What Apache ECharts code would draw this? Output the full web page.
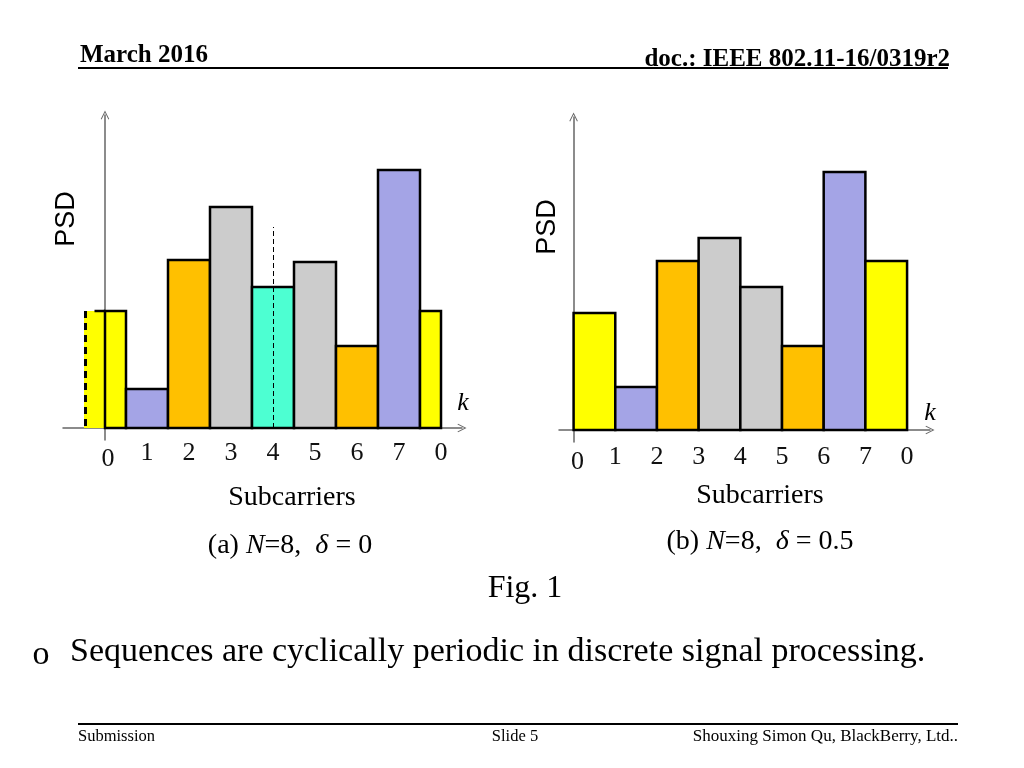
<!DOCTYPE html>
<html><head><meta charset="utf-8">
<script src="https://cdn.jsdelivr.net/npm/echarts@6/dist/echarts.min.js"></script>
<style>html,body{margin:0;padding:0;background:#fff}#c{width:1024px;height:768px}</style>
</head><body><div id="c"></div>
<script>
// ---- data ----
const tickLabels = ['0', '1', '2', '3', '4', '5', '6', '7', '0'];
const tickValues = [0, 1, 2, 3, 4, 5, 6, 7, 8];
const N = 8;
// (a) N=8, delta=0 : bars centred on subcarriers (last bar is the cyclic repeat of 0)
const psdA = [117, 39, 168, 221, 141, 166, 82, 258, 117];
const colorsA = ['#FFFF00', '#A4A4E6', '#FFC000', '#CCCCCC', '#4DFFD2', '#CCCCCC', '#FFC000', '#A4A4E6', '#FFFF00'];
const deltaA = 0;
const markerA = [4, 201]; // dashed marker: subcarrier, height
// (b) N=8, delta=0.5 : bars between subcarriers
const psdB = [117, 43, 169, 192, 143, 84, 258, 169];
const colorsB = ['#FFFF00', '#A4A4E6', '#FFC000', '#CCCCCC', '#CCCCCC', '#FFC000', '#A4A4E6', '#FFFF00'];
const deltaB = 0.5;

const SERIF = "'Liberation Serif','Times New Roman',serif";
const SANS = "'Liberation Sans',Arial,sans-serif";
const AXIS = '#666666';
const chevron = 'path://M0,10 L5,0 L10,10 L9,10.6 L5,2.4 L1,10.6 Z';

function makeRender(delta, colors) {
  return function (params, api) {
    const k = api.value(0), v = api.value(1);
    const c = k + delta;
    const x0 = Math.max(c - 0.5, -0.5), x1 = Math.min(c + 0.5, N);
    const xs = Math.max(x0, 0);
    const tl = api.coord([xs, v]), br = api.coord([x1, 0]);
    const fill = colors[params.dataIndex];
    const children = [];
    if (x0 < 0) {
      const q = api.coord([x0, v]);
      children.push({ type: 'rect', shape: { x: q[0], y: q[1], width: tl[0] - q[0], height: br[1] - q[1] }, style: { fill: fill } });
      children.push({ type: 'line', shape: { x1: q[0] + 1.5, y1: q[1], x2: q[0] + 1.5, y2: br[1] }, style: { stroke: '#000', lineWidth: 3, lineDash: [7, 5] } });
      children.push({ type: 'line', shape: { x1: (q[0] + tl[0]) / 2, y1: q[1], x2: tl[0], y2: q[1] }, style: { stroke: '#000', lineWidth: 2.5 } });
    }
    children.push({ type: 'rect', shape: { x: tl[0], y: tl[1], width: br[0] - tl[0], height: br[1] - tl[1] }, style: { fill: fill, stroke: '#000', lineWidth: 2.5 } });
    return { type: 'group', children: children };
  };
}

function xAxisCfg(gridIndex, min, max, margin, zeroPad) {
  return {
    type: 'value', gridIndex: gridIndex, min: min, max: max,
    axisLine: { show: true, onZero: true, lineStyle: { color: AXIS, width: 1.5 }, symbol: ['none', chevron], symbolSize: [11, 9] },
    axisTick: { show: false },
    splitLine: { show: false },
    axisLabel: {
      show: true, customValues: tickValues, margin: margin, showMinLabel: true, showMaxLabel: true,
      fontFamily: SERIF, fontSize: 26, color: '#111',
      formatter: function (v) { return v === 0 ? '{z|' + tickLabels[0] + '}' : tickLabels[Math.round(v)]; },
      rich: { z: { fontFamily: SERIF, fontSize: 26, color: '#111', padding: zeroPad } }
    }
  };
}
function yAxisCfg(gridIndex) {
  return {
    type: 'value', gridIndex: gridIndex, min: -12, max: 313,
    axisLine: { show: true, onZero: true, lineStyle: { color: AXIS, width: 1.5 }, symbol: ['none', chevron], symbolSize: [11, 9] },
    axisTick: { show: false }, axisLabel: { show: false }, splitLine: { show: false }
  };
}

function txt(x, y, text, size, opts) {
  return { type: 'text', x: x, y: y, style: Object.assign({ text: text, fontFamily: SERIF, fontSize: size, fill: '#000', align: 'center', verticalAlign: 'middle' }, opts || {}) };
}
const italicRich = { i: { fontFamily: SERIF, fontSize: 28, fontStyle: 'italic', fill: '#000' } };

const chart = echarts.init(document.getElementById('c'));
chart.setOption({
  animation: false,
  backgroundColor: '#fff',
  grid: [
    { left: 63, top: 115, width: 399, height: 325 },
    { left: 559, top: 117, width: 371, height: 325 }
  ],
  xAxis: [xAxisCfg(0, -1, 8.5, 0, [6, 0, 0, 6]), xAxisCfg(1, -0.35, 8.55, 2, [5, 0, 0, 8])],
  yAxis: [yAxisCfg(0), yAxisCfg(1)],
  series: [
    {
      type: 'custom', xAxisIndex: 0, yAxisIndex: 0, clip: false,
      renderItem: makeRender(deltaA, colorsA),
      data: psdA.map(function (v, i) { return [i, v]; }),
      markLine: {
        symbol: 'none', silent: true, label: { show: false },
        lineStyle: { color: '#000', width: 1, type: [5, 3] },
        data: [[{ coord: [markerA[0], 0] }, { coord: markerA }]]
      },
      z: 3
    },
    {
      type: 'custom', xAxisIndex: 1, yAxisIndex: 1, clip: false,
      renderItem: makeRender(deltaB, colorsB),
      data: psdB.map(function (v, i) { return [i, v]; }),
      z: 3
    }
  ],
  graphic: [
    txt(80, 56, 'March 2016', 25, { align: 'left', fontWeight: 'bold' }),
    txt(950, 60, 'doc.: IEEE 802.11-16/0319r2', 25, { align: 'right', fontWeight: 'bold' }),
    { type: 'line', shape: { x1: 78, y1: 68, x2: 948, y2: 68 }, style: { stroke: '#000', lineWidth: 2 } },
    { type: 'text', x: 67, y: 219, rotation: Math.PI / 2, style: { text: 'PSD', fontFamily: SANS, fontSize: 27, fill: '#000', align: 'center', verticalAlign: 'middle' } },
    { type: 'text', x: 548, y: 227, rotation: Math.PI / 2, style: { text: 'PSD', fontFamily: SANS, fontSize: 27, fill: '#000', align: 'center', verticalAlign: 'middle' } },
    txt(463, 403, 'k', 26, { fontStyle: 'italic' }),
    txt(930, 413, 'k', 26, { fontStyle: 'italic' }),
    txt(292, 498, 'Subcarriers', 28),
    txt(760, 496, 'Subcarriers', 28),
    { type: 'text', x: 290, y: 546, style: { text: '(a) {i|N}=8,  {i|δ} = 0', fontFamily: SERIF, fontSize: 28, fill: '#000', align: 'center', verticalAlign: 'middle', rich: italicRich } },
    { type: 'text', x: 760, y: 542, style: { text: '(b) {i|N}=8,  {i|δ} = 0.5', fontFamily: SERIF, fontSize: 28, fill: '#000', align: 'center', verticalAlign: 'middle', rich: italicRich } },
    txt(525, 589, 'Fig. 1', 32),
    txt(41, 655, 'o', 34, { align: 'center' }),
    txt(70, 652, 'Sequences are cyclically periodic in discrete signal processing.', 34, { align: 'left' }),
    { type: 'line', shape: { x1: 78, y1: 724, x2: 958, y2: 724 }, style: { stroke: '#000', lineWidth: 2 } },
    txt(78, 737, 'Submission', 16.5, { align: 'left' }),
    txt(515, 737, 'Slide 5', 16.5),
    txt(958, 737, 'Shouxing Simon Qu, BlackBerry, Ltd..', 17, { align: 'right' })
  ]
});
</script></body></html>
